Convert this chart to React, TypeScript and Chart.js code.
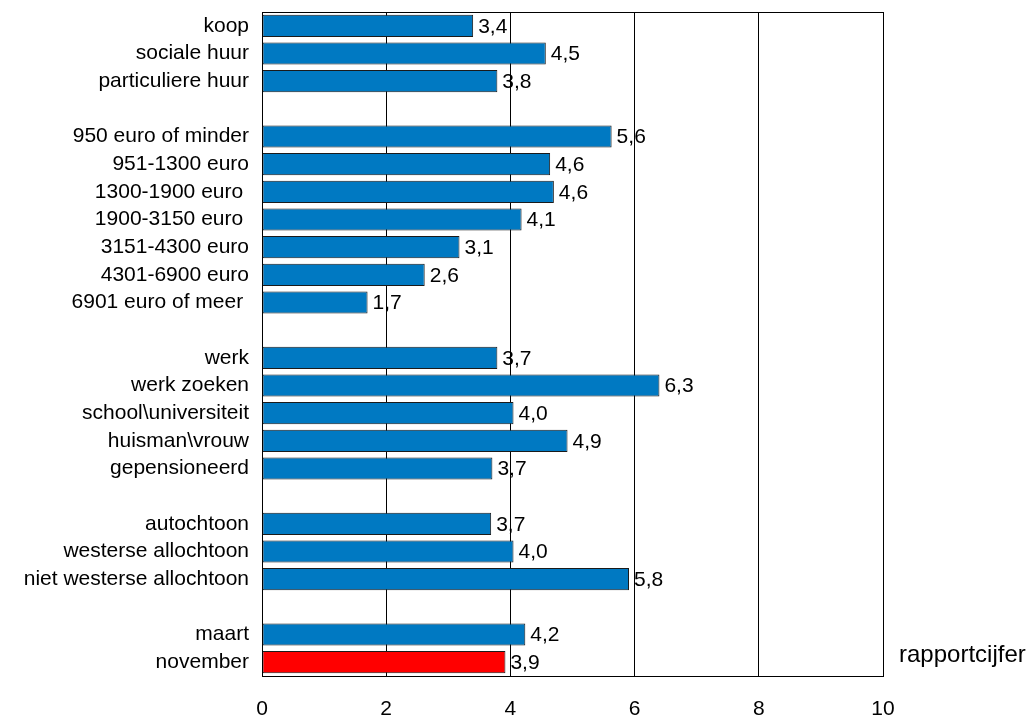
import { useEffect, useRef } from "react";
import { Chart, registerables } from "chart.js";

Chart.register(...registerables);

const categories: string[] = [
  "koop",
  "sociale huur",
  "particuliere huur",
  "",
  "950 euro of minder",
  "951-1300 euro",
  "1300-1900 euro ",
  "1900-3150 euro ",
  "3151-4300 euro",
  "4301-6900 euro",
  "6901 euro of meer ",
  "",
  "werk",
  "werk zoeken",
  "school\\universiteit",
  "huisman\\vrouw",
  "gepensioneerd",
  "",
  "autochtoon",
  "westerse allochtoon",
  "niet westerse allochtoon",
  "",
  "maart",
  "november",
];

// bar lengths
const values: (number | null)[] = [
  3.4, 4.57, 3.79, null,
  5.63, 4.64, 4.7, 4.18, 3.18, 2.62, 1.7, null,
  3.79, 6.4, 4.05, 4.92, 3.71, null,
  3.69, 4.05, 5.91, null,
  4.24, 3.92,
];

// value labels as printed next to the bars
const valueLabels: string[] = [
  "3,4", "4,5", "3,8", "",
  "5,6", "4,6", "4,6", "4,1", "3,1", "2,6", "1,7", "",
  "3,7", "6,3", "4,0", "4,9", "3,7", "",
  "3,7", "4,0", "5,8", "",
  "4,2", "3,9",
];

const xTicks: number[] = [0, 2, 4, 6, 8, 10];
const axisTitle = "rapportcijfer";

const BLUE = "#0079C2";
const RED = "#FF0000";
const FONT = "'Liberation Sans', Arial, sans-serif";

export default function App() {
  const ref = useRef<HTMLCanvasElement | null>(null);

  useEffect(() => {
    document.body.style.margin = "0";
    const canvas = ref.current;
    if (!canvas) return;

    const colors = categories.map((c) => (c === "november" ? RED : BLUE));

    const overlay = {
      id: "overlay",
      afterDatasetsDraw(chart: any) {
        const ctx = chart.ctx;
        const area = chart.chartArea;
        ctx.save();
        // frame
        ctx.strokeStyle = "#000";
        ctx.lineWidth = 1;
        ctx.strokeRect(
          Math.round(area.left) + 0.5,
          Math.round(area.top) + 0.5,
          Math.round(area.right - area.left),
          Math.round(area.bottom - area.top)
        );
        // value labels
        const meta = chart.getDatasetMeta(0);
        ctx.fillStyle = "#000";
        ctx.font = `21px ${FONT}`;
        ctx.textAlign = "left";
        ctx.textBaseline = "middle";
        meta.data.forEach((el: any, i: number) => {
          if (values[i] == null) return;
          ctx.fillText(valueLabels[i], el.x + 5, el.y + 1);
        });
        // axis title
        ctx.font = `24px ${FONT}`;
        ctx.textBaseline = "alphabetic";
        ctx.fillText(axisTitle, area.right + 16, 662);
        ctx.restore();
      },
    };

    const chart = new Chart(canvas, {
      type: "bar",
      data: {
        labels: categories,
        datasets: [
          {
            data: values as any,
            backgroundColor: colors,
            borderColor: "#1a1a1a",
            borderWidth: 1,
            borderSkipped: false,
            barPercentage: 0.8,
            categoryPercentage: 1.0,
          },
        ],
      },
      options: {
        indexAxis: "y",
        animation: false,
        responsive: false,
        devicePixelRatio: 1,
        layout: { padding: { top: 12, right: 149, left: 0, bottom: 0 } },
        plugins: {
          legend: { display: false },
          tooltip: { enabled: false },
        },
        scales: {
          x: {
            type: "linear",
            min: 0,
            max: 10,
            afterBuildTicks: (scale: any) => {
              scale.ticks = xTicks.map((v) => ({ value: v }));
            },
            ticks: {
              color: "#000",
              font: { family: FONT, size: 21 },
              padding: 21,
              callback: (v: any) => String(v),
            },
            grid: { color: "#000", lineWidth: 1, drawTicks: false },
            border: { display: true, color: "#000" },
            afterFit: (scale: any) => {
              scale.height = 44;
              scale.paddingLeft = 0;
              scale.paddingRight = 0;
            },
          },
          y: {
            type: "category",
            ticks: {
              color: "#000",
              font: { family: FONT, size: 21 },
              padding: 13,
              autoSkip: false,
            },
            grid: { display: false, drawTicks: false },
            border: { display: true, color: "#000" },
            afterFit: (scale: any) => {
              scale.width = 262;
              scale.paddingTop = 0;
              scale.paddingBottom = 0;
            },
          },
        },
      },
      plugins: [overlay],
    });

    return () => chart.destroy();
  }, []);

  return (
    <div style={{ width: 1032, height: 720 }}>
      <canvas ref={ref} width={1032} height={720} style={{ display: "block" }} />
    </div>
  );
}
